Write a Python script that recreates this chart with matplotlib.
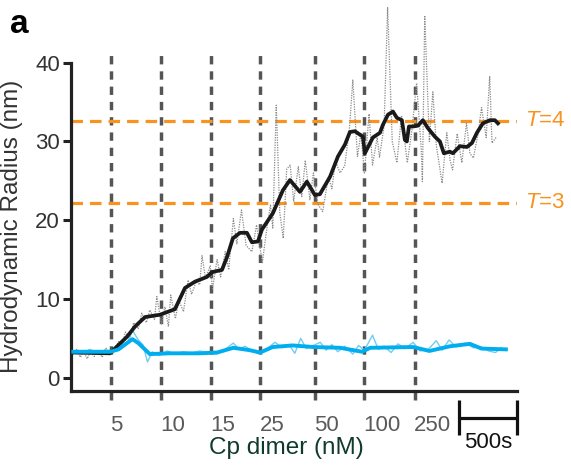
import numpy as np
import matplotlib
matplotlib.use('Agg')
import matplotlib.pyplot as plt
import matplotlib.transforms as mtrans

plt.rcParams['font.family'] = ['Liberation Sans', 'DejaVu Sans']
plt.rcParams['mathtext.fontset'] = 'custom'
plt.rcParams['mathtext.it'] = 'Liberation Sans:italic'
plt.rcParams['mathtext.rm'] = 'Liberation Sans'

#%% data (time in s, radius in nm)

# injection times and Cp dimer concentrations
inj_t = [345, 775, 1205, 1630, 2105, 2525, 2965]
inj_lab = ['5', '10', '15', '25', '50', '100', '250']

# T=3 / T=4 capsid radii
t_lev = [22.2, 32.6]
t_lab = ['$T$=3', '$T$=4']

# raw trace, Cp assembly (grey dotted)
raw_t = [20, 50, 80, 110, 140, 170, 200, 230, 270, 300, 340, 370, 410, 440, 470,
         510, 540, 580, 610, 650, 680, 720, 740, 780, 810, 840, 860, 900, 930, 970,
         1010, 1040, 1080, 1110, 1130, 1160, 1200, 1220, 1260, 1290, 1330, 1360,
         1400, 1430, 1470, 1510, 1560, 1600, 1650, 1680, 1720, 1740, 1770, 1800,
         1830, 1860, 1890, 1920, 1960, 1990, 2020, 2060, 2090, 2130, 2170, 2220,
         2250, 2280, 2320, 2360, 2400, 2430, 2470, 2500, 2530, 2570, 2600, 2640,
         2660, 2700, 2730, 2770, 2810, 2850, 2900, 2940, 2980, 3020, 3030, 3050,
         3090, 3120, 3150, 3200, 3240, 3270, 3290, 3330, 3370, 3410, 3440, 3470,
         3510, 3540, 3580, 3610, 3630, 3670]
raw_r = [3.0, 3.6, 2.6, 3.3, 2.4, 3.5, 2.7, 3.4, 2.6, 3.8, 3.0, 3.4, 4.6, 4.2, 5.8,
         5.0, 7.0, 6.2, 8.2, 7.0, 8.6, 7.4, 10.3, 6.8, 9.0, 6.5, 10.5, 7.5, 9.8, 8.4,
         12.4, 10.6, 12.2, 11.8, 15.5, 12.6, 14.2, 11.3, 15.0, 12.8, 16.0, 13.7,
         20.2, 17.0, 21.3, 16.8, 16.0, 19.4, 14.6, 18.0, 22.0, 19.0, 34.6, 21.0,
         17.7, 26.5, 27.0, 22.4, 26.8, 23.0, 27.6, 22.6, 26.0, 22.0, 21.1, 25.5,
         24.0, 27.5, 26.0, 26.9, 31.5, 37.8, 28.1, 31.0, 26.0, 33.5, 27.0, 30.5,
         28.0, 32.0, 47.0, 30.0, 27.3, 33.3, 27.3, 31.5, 37.4, 29.0, 24.9, 46.0,
         30.0, 36.3, 29.5, 24.7, 31.1, 27.5, 26.4, 31.0, 27.3, 32.3, 28.5, 27.9,
         31.0, 34.3, 30.5, 38.3, 29.8, 30.6]

# smoothed trace, Cp assembly (black)
sm_t = [20, 336, 483, 552, 638, 767, 896, 983, 1069, 1172, 1215, 1302, 1345, 1396,
        1457, 1517, 1560, 1612, 1646, 1741, 1827, 1888, 1974, 2034, 2103, 2146,
        2233, 2302, 2362, 2405, 2448, 2517, 2534, 2603, 2664, 2689, 2733, 2776,
        2810, 2853, 2879, 2896, 2914, 2948, 2991, 3034, 3077, 3138, 3181, 3215,
        3267, 3293, 3353, 3414, 3457, 3500, 3551, 3612, 3655, 3681]
sm_r = [3.2, 3.1, 5.2, 6.5, 7.7, 8.0, 8.7, 11.4, 12.2, 12.8, 13.4, 13.7, 15.3, 17.7,
        18.4, 18.4, 17.2, 17.3, 18.8, 20.9, 23.8, 25.1, 23.6, 24.9, 23.2, 23.3,
        25.5, 28.1, 29.6, 31.2, 31.3, 30.6, 28.5, 30.5, 31.1, 32.1, 33.4, 33.8,
        33.0, 32.7, 30.2, 30.0, 31.9, 31.9, 32.0, 32.7, 31.7, 30.6, 30.0, 28.5,
        28.7, 28.5, 29.4, 29.3, 29.8, 31.1, 32.3, 32.7, 32.7, 32.3]

# raw trace, control (light blue)
ctl_raw_t = [20, 90, 160, 230, 300, 370, 430, 490, 530, 580, 620, 660, 700, 760,
             830, 900, 970, 1040, 1110, 1180, 1250, 1320, 1400, 1450, 1500, 1560,
             1630, 1700, 1760, 1820, 1880, 1930, 1980, 2030, 2090, 2150, 2200,
             2250, 2300, 2360, 2430, 2480, 2530, 2600, 2650, 2700, 2760, 2820,
             2880, 2950, 3010, 3080, 3150, 3200, 3260, 3320, 3400, 3470, 3540,
             3600, 3660, 3710, 3750]
ctl_raw_r = [3.4, 3.0, 3.6, 3.2, 3.5, 3.4, 4.0, 4.6, 6.0, 4.8, 4.2, 2.0, 3.3, 2.8,
             3.4, 3.0, 3.3, 3.1, 3.4, 3.2, 3.0, 3.5, 4.4, 3.6, 4.0, 3.4, 3.0, 3.8,
             4.5, 3.8, 4.2, 3.1, 5.0, 3.7, 4.1, 4.5, 3.5, 4.2, 3.3, 4.0, 3.0, 4.1,
             3.5, 5.4, 3.6, 4.0, 3.2, 4.3, 3.7, 4.5, 3.4, 3.6, 4.7, 3.5, 4.8, 3.9,
             4.4, 3.8, 3.9, 3.4, 3.2, 3.8, 3.5]

# smoothed trace, control (blue)
ctl_t = [20, 340, 410, 530, 580, 680, 850, 1110, 1260, 1400, 1540, 1630, 1740,
         1910, 2090, 2320, 2510, 2580, 2950, 3090, 3270, 3440, 3540, 3750]
ctl_r = [3.3, 3.3, 3.6, 4.9, 4.4, 3.0, 3.1, 3.1, 3.2, 3.8, 3.5, 3.2, 3.9, 4.1,
         3.9, 3.8, 3.3, 3.8, 3.9, 3.4, 4.0, 4.3, 3.7, 3.6]

scale_s = 500

#%% figure
fig = plt.figure(figsize=(5.71, 4.70), dpi=100)
ax = fig.add_axes([0.1243, 0.168, 0.781, 0.6986])

orange = '#f7931e'

for x in inj_t:
    ax.plot([x, x], [-2.8, 41.4], color='#555555', lw=2.5,
            dashes=(2.4, 2.0), clip_on=False, zorder=1)

for y in t_lev:
    ax.axhline(y, color=orange, lw=2.3, dashes=(3.6, 2.2), zorder=1)

ax.plot(raw_t, raw_r, color='#8a8a8a', lw=0.9, ls=(0, (1, 1)),
        clip_on=False, zorder=2)
ax.plot(ctl_raw_t, ctl_raw_r, color='#6fcdf2', lw=1.0, zorder=3)
ax.plot(sm_t, sm_r, color='#1a1a1a', lw=2.7, zorder=4)
ax.plot(ctl_t, ctl_r, color='#00aeef', lw=2.8, zorder=5)

ax.set_xlim(0, 3845)
ax.set_ylim(-1.69, 40)
ax.set_yticks([0, 10, 20, 30, 40])
ax.set_xticks([])
ax.tick_params(axis='y', length=6, width=2.2, color='#222222',
               labelsize=16, labelcolor='#333333', pad=2)

for s in ['top', 'right']:
    ax.spines[s].set_visible(False)
for s in ['left', 'bottom']:
    ax.spines[s].set_linewidth(2.3)
    ax.spines[s].set_color('#222222')

ax.set_ylabel('Hydrodynamic Radius (nm)', fontsize=17.5, color='#333333')
ax.yaxis.set_label_coords(-0.108, 0.5)

# concentration labels under the injection lines
trans = mtrans.blended_transform_factory(ax.transData, ax.transAxes)
for x, lab in zip(inj_t, inj_lab):
    ax.text(x - 5, -0.104, lab, transform=trans, ha='left', va='center',
            fontsize=16, color='#5a5a5a')

ax.text(0.482, -0.172, 'Cp dimer (nM)', transform=ax.transAxes, ha='center',
        va='center', fontsize=17.5, color='#0f3a2c')

# T labels
for y, lab in zip(t_lev, t_lab):
    ax.text(3913, y, lab, ha='left', va='center', fontsize=16, color=orange,
            clip_on=False)

# scale bar
x0, x1 = 3845 - scale_s, 3845
ax.plot([x0, x1], [-0.082, -0.082], color='#111111', lw=2.3, transform=trans,
        clip_on=False, solid_capstyle='butt')
for x in [x0, x1]:
    ax.plot([x, x], [-0.027, -0.134], color='#111111', lw=2.3, transform=trans,
            clip_on=False, solid_capstyle='butt')
ax.text((x0 + x1) / 2, -0.157, '%ds' % scale_s, transform=trans, ha='center',
        va='center', fontsize=16, color='#111111')

fig.text(0.017, 0.93, 'a', fontsize=24, fontweight='bold', va='baseline')

fig.savefig('out.png', dpi=100, facecolor='w')
